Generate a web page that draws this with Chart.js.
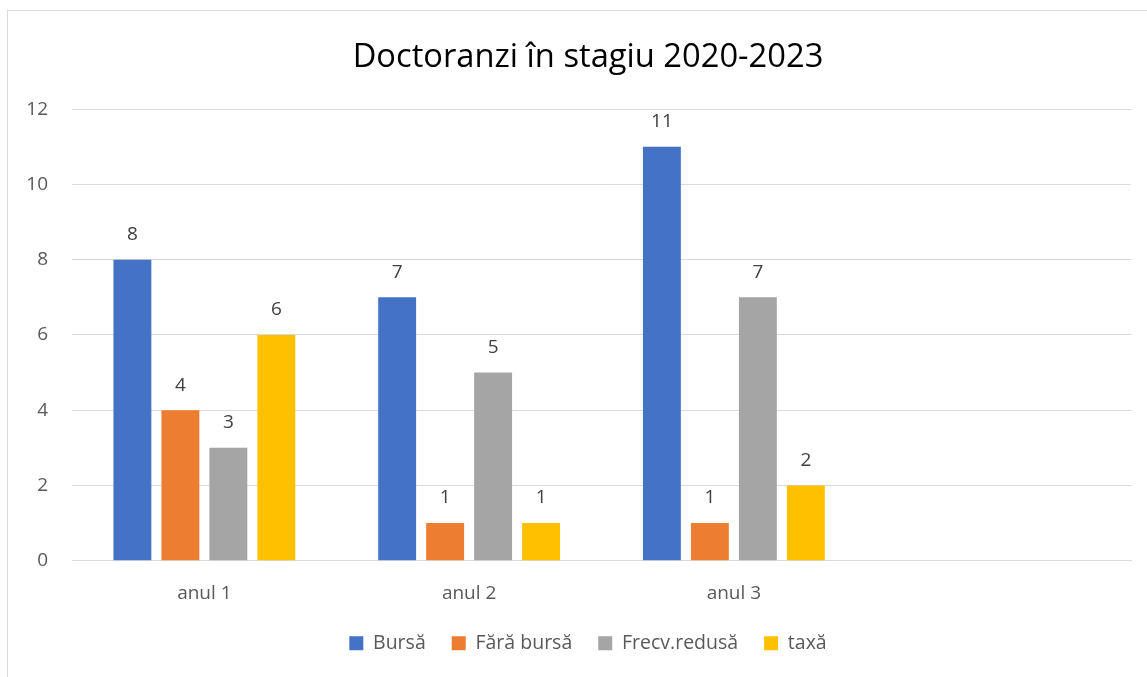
<!DOCTYPE html>
<html>
<head>
<meta charset="utf-8">
<script src="https://cdn.jsdelivr.net/npm/chart.js@4"></script>
<style>
  html, body { margin: 0; padding: 0; background: #fff; overflow: hidden; }
  #wrap { position: absolute; left: 0; top: 0; width: 1176px; height: 677px; }
  #frame { position: absolute; left: 7px; top: 10px; width: 1170px; height: 700px;
           border: 1px solid #d9d9d9; pointer-events: none; }
</style>
</head>
<body>
<div id="wrap"><canvas id="c"></canvas></div>
<div id="frame"></div>
<script>
// Doctoranzi în stagiu 2020-2023 — clustered bars per year of study.
const categories = ["anul 1", "anul 2", "anul 3", ""];
const bursa      = [8, 7, 11, null];
const faraBursa  = [4, 1, 1, null];
const frecvRed   = [3, 5, 7, null];
const taxa       = [6, 1, 2, null];
const yTicks     = [0, 2, 4, 6, 8, 10, 12];

const FONT = "'Open Sans', Lato, sans-serif";
const GRID = "#d9d9d9";
const TXT  = "#595959";

// Linear scale whose tick labels may sit left of its own box (the axis is kept
// narrow so title/legend centre on the full chart frame, like Excel does).
class LooseLinear extends Chart.LinearScale {
  _computeLabelArea() { return undefined; }
}
LooseLinear.id = "looseLinear";
LooseLinear.defaults = Chart.LinearScale.defaults;
Chart.register(LooseLinear);

// Value labels above each bar, like Excel data labels.
const barLabels = {
  id: "barLabels",
  afterDatasetsDraw(c) {
    const ctx = c.ctx;
    ctx.save();
    ctx.fillStyle = "#404040";
    ctx.font = `19px ${FONT}`;
    ctx.textAlign = "center";
    ctx.textBaseline = "middle";
    c.data.datasets.forEach((ds, i) => {
      c.getDatasetMeta(i).data.forEach((bar, j) => {
        const v = ds.data[j];
        if (v == null) return;
        ctx.fillText(String(v), bar.x, bar.y - 25);
      });
    });
    ctx.restore();
  },
};

const mk = (label, data, color) => ({
  label, data, backgroundColor: color, borderWidth: 0,
  categoryPercentage: 0.725, barPercentage: 0.79,
});

new Chart(document.getElementById("c"), {
  type: "bar",
  data: {
    labels: categories,
    datasets: [
      mk("Bursă", bursa, "#4472c4"),
      mk("Fără bursă", faraBursa, "#ed7d31"),
      mk("Frecv.redusă", frecvRed, "#a5a5a5"),
      mk("taxă", taxa, "#ffc000"),
    ],
  },
  options: {
    responsive: true, maintainAspectRatio: false, animation: false,
    layout: { padding: { top: 19, left: 45, right: 45, bottom: 14 } },
    plugins: {
      title: {
        display: true, text: "Doctoranzi în stagiu 2020-2023",
        color: "#000", font: { family: FONT, size: 32.7, weight: "normal" },
        padding: { top: 19, bottom: 32 },
      },
      legend: {
        position: "bottom",
        labels: { color: TXT, font: { family: FONT, size: 19.5 }, boxWidth: 14, boxHeight: 14, padding: 26 },
      },
      tooltip: { enabled: false },
    },
    scales: {
      x: {
        grid: { display: false, drawTicks: false },
        border: { color: GRID },
        ticks: { color: TXT, font: { family: FONT, size: 19 }, padding: 21 },
        afterFit: (s) => { s.height -= 18; },
      },
      y: {
        type: "looseLinear",
        min: 0, max: 12,
        afterBuildTicks: (s) => { s.ticks = yTicks.map(v => ({ value: v })); },
        grid: { color: GRID, drawTicks: false },
        border: { display: false },
        ticks: { color: TXT, font: { family: FONT, size: 19 }, padding: 24 },
        afterFit: (s) => { s.width = 27; },
      },
    },
  },
  plugins: [barLabels],
});
</script>
</body>
</html>
